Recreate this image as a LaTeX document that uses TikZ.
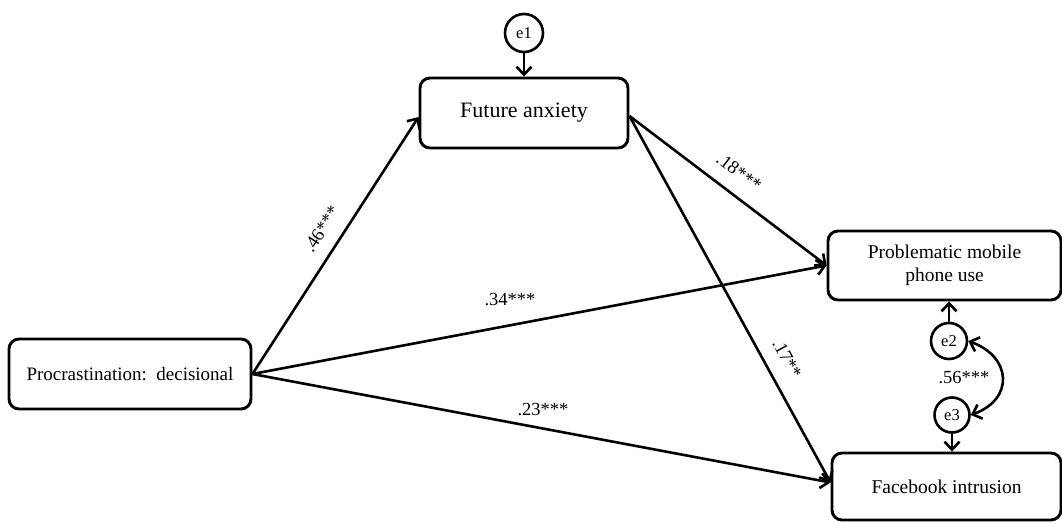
\documentclass[tikz,border=0pt]{standalone}
\usepackage{fontspec}
\setmainfont{Liberation Serif}
\usetikzlibrary{arrows.meta}
\begin{document}
\begin{tikzpicture}[x=1pt,y=1pt,
  box/.style={draw, line width=2.9pt, rounded corners=10pt, inner sep=0pt, align=center},
  err/.style={draw, circle, line width=2.6pt, inner sep=0pt, font=\fontsize{16.5}{18}\selectfont},
  arr/.style={line width=2.6pt, -{Straight Barb[length=8pt,width=15pt]}},
  dbl/.style={line width=2.6pt, {Straight Barb[length=8pt,width=15pt]}-{Straight Barb[length=8pt,width=15pt]}},
  lab/.style={font=\fontsize{18.5}{20}\selectfont, inner sep=2pt}]
\useasboundingbox (0,0) rectangle (1062,522);
\node[box, minimum width=242pt, minimum height=70pt, font=\fontsize{19}{22}\selectfont] (proc) at (130,148) {Procrastination:\hspace{0.5em}decisional};
\node[box, minimum width=208pt, minimum height=70pt, font=\fontsize{22}{26}\selectfont] (fa) at (524,409) {Future anxiety};
\node[box, minimum width=233pt, minimum height=69pt, font=\fontsize{19.5}{23}\selectfont] (pmu) at (944.5,256.5) {Problematic mobile\\phone use};
\node[box, minimum width=229pt, minimum height=67pt, font=\fontsize{19.5}{23}\selectfont] (fb) at (946.5,35.5) {Facebook intrusion};
\node[err, minimum size=38pt] (e1) at (524,489) {e1};
\node[err, minimum size=36pt] (e2) at (949,181) {e2};
\node[err, minimum size=35pt] (e3) at (952,107) {e3};

\draw[arr] (e1.south) -- (e1.south |- fa.north);
\draw[arr] (e2.north) -- (e2.north |- pmu.south);
\draw[arr] (e3.south) -- (e3.south |- fb.north);
\draw[dbl] (e2.east) to[out=-20, in=20, looseness=1.6] (e3.east);
\node[lab] (l56) at (964,144) {.56***};

\draw[arr] (proc.east) -- ([yshift=-4pt]fa.west) node[lab, sloped, above=11pt, pos=0.52] (l46) {.46***};
\draw[arr] (proc.east) -- (pmu.west);
\draw[arr] (proc.east) -- ([yshift=4pt]fb.west);
\draw[arr] ([yshift=-3pt]fa.east) -- (pmu.west) node[lab, sloped, above=12pt, pos=0.49] (l18) {.18***};
\draw[arr] ([yshift=-3pt]fa.east) -- ([yshift=4pt]fb.west) node[lab, sloped, above=12pt, pos=0.69] (l17) {.17**};
\node[lab] (l34) at (510,222) {.34***};
\node[lab] (l23) at (543,112) {.23***};
\end{tikzpicture}
\end{document}
